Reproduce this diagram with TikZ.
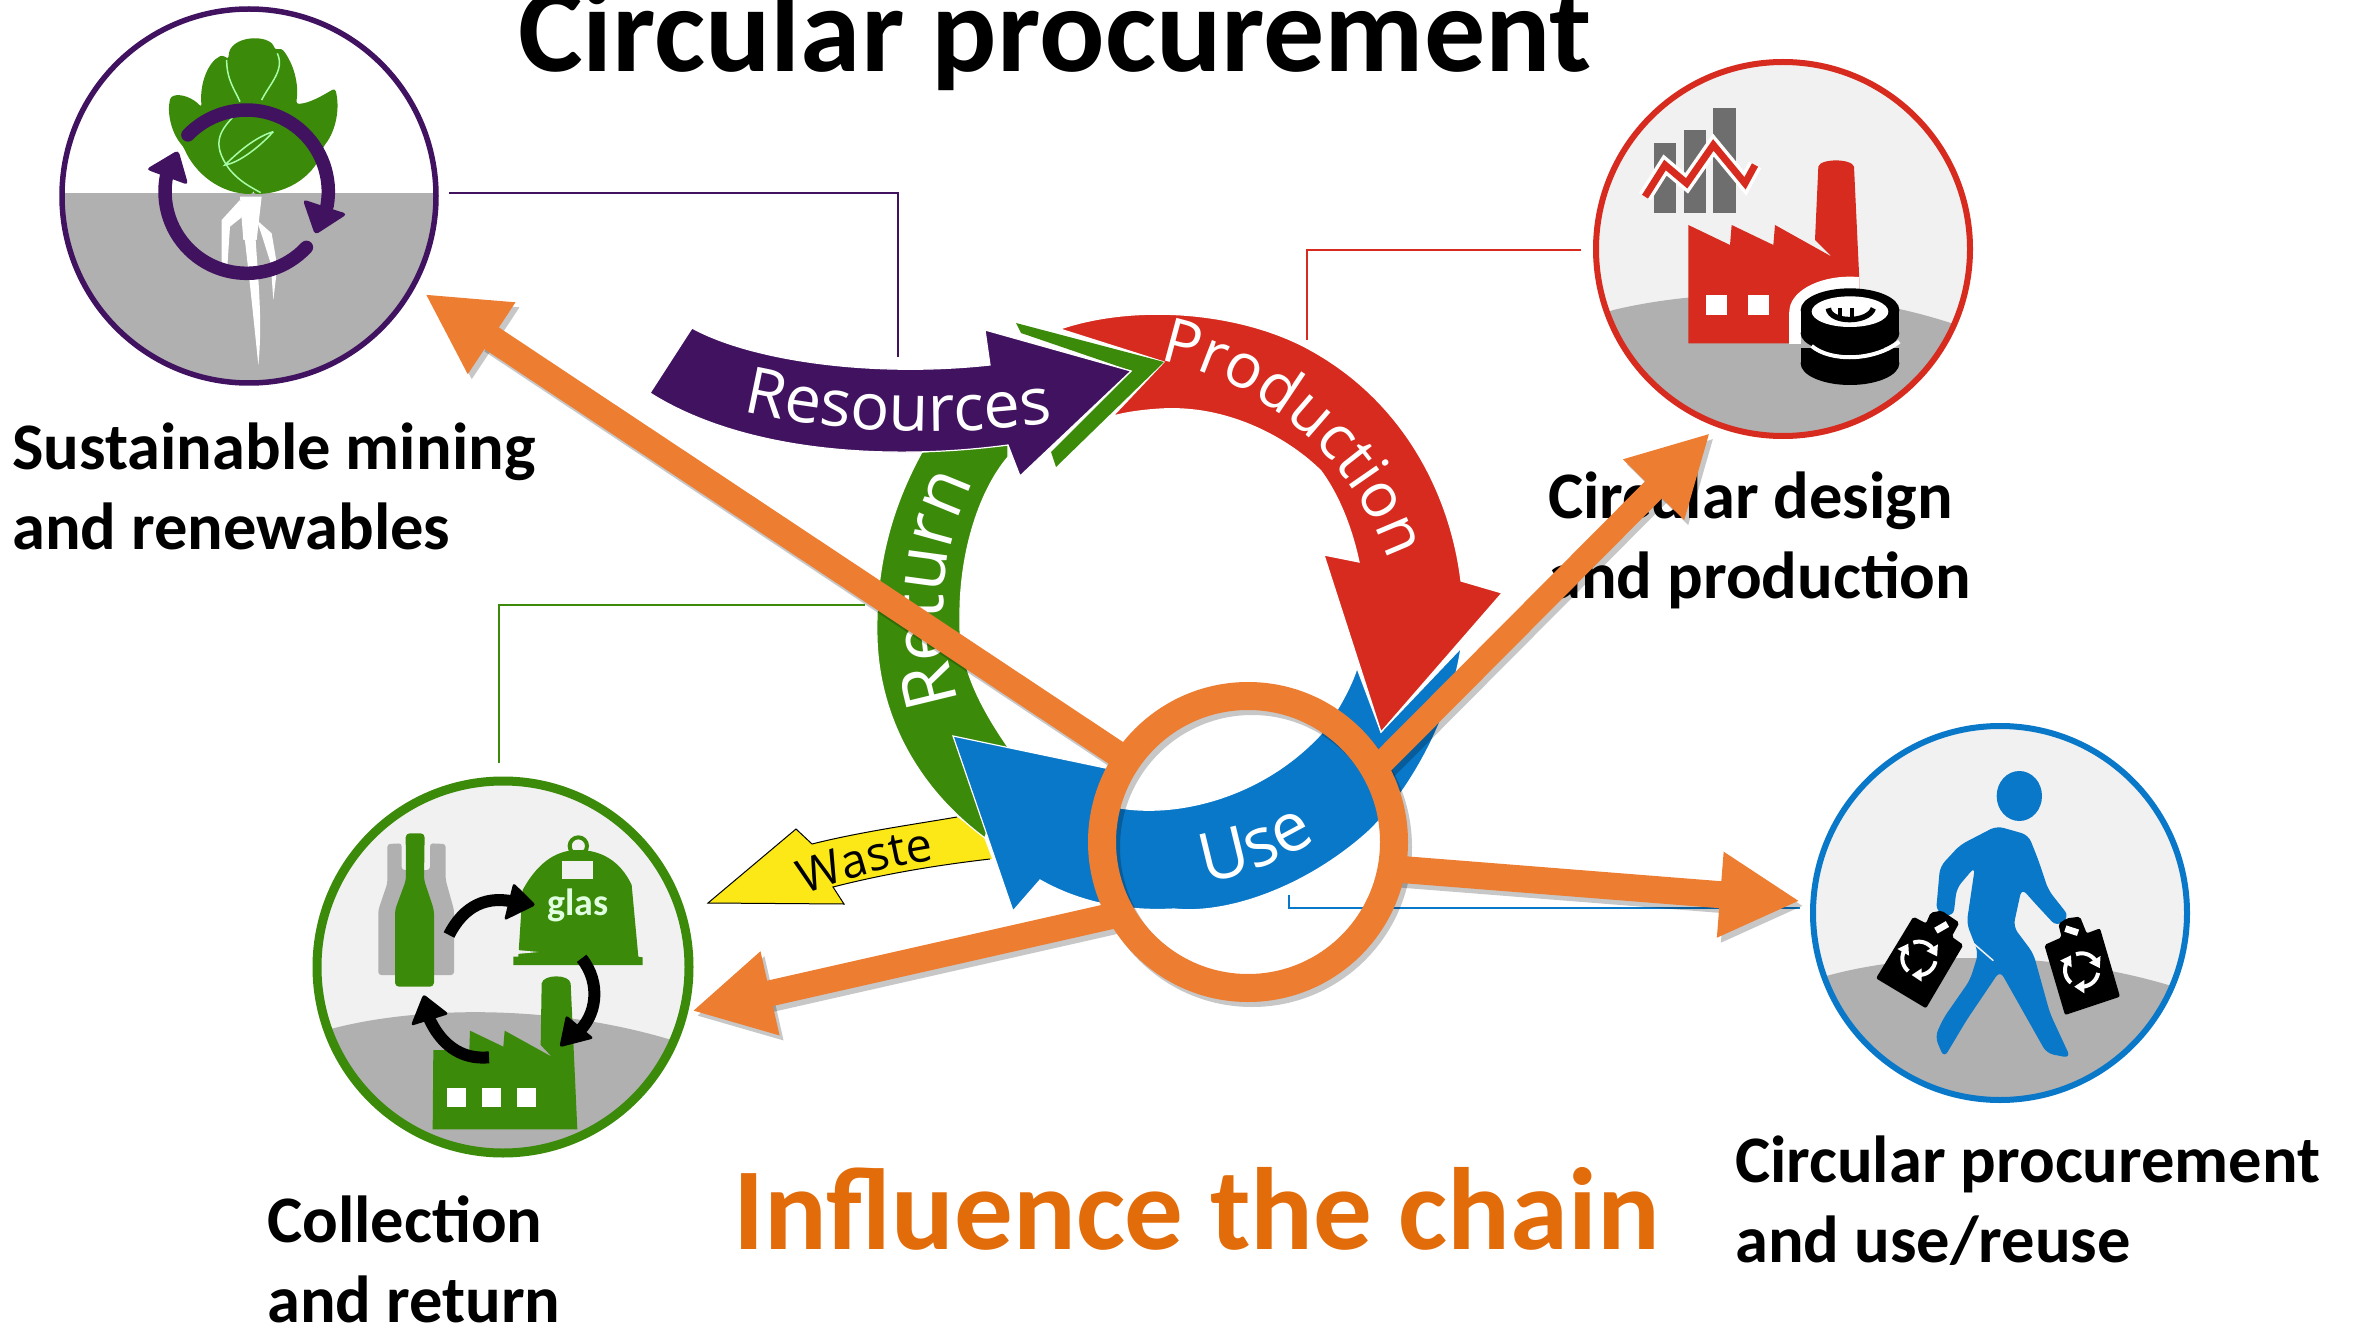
\documentclass[tikz,border=0pt]{standalone}
\usepackage{fontspec}
\usetikzlibrary{arrows.meta,decorations.text,calc}
\newfontfamily\lblfont{Carlito}
\newfontfamily\ringfont{Open Sans}
\definecolor{cPurple}{HTML}{40125F}
\definecolor{cRed}{HTML}{D62B1E}
\definecolor{cGreen}{HTML}{3C8A0A}
\definecolor{cBlue}{HTML}{0A78C8}
\definecolor{cYellow}{HTML}{FCE817}
\definecolor{cOrange}{HTML}{ED7D31}
\definecolor{cTitleOrange}{HTML}{E36C0A}
\definecolor{cGround}{HTML}{B0B0B0}
\definecolor{cSky}{HTML}{F1F1F1}
\definecolor{cBar}{HTML}{6E6E6E}
\tikzset{
  iconring/.style={circle,minimum size=#1,inner sep=0pt},
  thinlink/.style={line width=2.5pt},
  band/.style={draw=white,line width=1.2pt,line join=miter},
  orangearrow/.style={draw=cOrange,line width=#1,shorten <=-10pt,-{Triangle[length=80pt,width=80pt]}},
  shadowarrow/.style={draw=black,line width=#1,shorten <=-10pt,-{Triangle[length=80pt,width=80pt]}},
  lbl/.style={font=\lblfont\bfseries\fontsize{66.5}{80}\selectfont,align=left,anchor=west,inner sep=0pt,text=black},
}
\newcommand{\recycmark}[2]{%
  \foreach \a in {0,120,240}{%
    \begin{scope}[shift={(#1,#2)},rotate=\a]
      \draw[white,line width=4pt] plot[domain=10:85,samples=12] ({50*cos(\x)},{50*sin(\x)});
      \fill[white] (8,30) -- (8,70) -- (-22,50) -- cycle;
    \end{scope}}}
\begin{document}
\begin{tikzpicture}[x=1pt,y=-1pt]
\useasboundingbox (0,0) rectangle (2356,1329);
\fill[white] (0,0) rectangle (2356,1329);

% ---------- icon: resources
\node[iconring=375pt,fill=white] (icoRes) at (249,196) {};
\begin{scope}
  \clip (249,196) circle (187);
  \fill[cGround] (40,193) rectangle (460,400);
\end{scope}
\begin{scope}[shift={(40,0)},scale=1/3]
  \fill[white] (600,590) -- (665,590) -- (650,720) -- (610,720) -- cycle;
  \fill[white] (610,680) .. controls (630,850) and (640,950) .. (655,1095) .. controls (670,950) and (650,800) .. (645,680) -- cycle;
  \fill[white] (600,600) -- (545,660) -- (545,800) -- (562,800) -- (570,680) -- (620,640) -- cycle;
  \fill[white] (650,660) -- (695,700) -- (712,800) -- (700,900) -- (692,790) -- (670,720) -- cycle;
  \fill[cGreen,rounded corners=3pt] (640,582) .. controls (540,582) and (465,520) .. (430,440)
     .. controls (395,400) and (380,340) .. (392,290) .. controls (425,280) and (460,295) .. (485,322)
     .. controls (478,250) and (505,185) .. (548,165) -- (566,178)
     .. controls (565,105) and (690,100) .. (705,150) -- (725,145)
     .. controls (760,190) and (778,250) .. (768,312) .. controls (810,310) and (850,285) .. (885,265)
     .. controls (900,320) and (890,390) .. (850,440) .. controls (830,520) and (750,582) .. (640,582) -- cycle;
  \begin{scope}[draw=green!35!white,line width=1.5pt]
    \draw (560,180) .. controls (560,240) and (585,270) .. (600,305);
    \draw (712,160) .. controls (735,210) and (690,250) .. (665,300);
    \draw (590,340) .. controls (540,390) and (510,430) .. (570,510) .. controls (600,545) and (630,560) .. (662,578);
    \draw (700,395) .. controls (650,410) and (600,450) .. (555,495) .. controls (590,490) and (650,450) .. (700,395);
  \end{scope}
  \draw[cPurple,line width=13.5pt,line cap=round] plot[domain=-136:10,samples=40] ({620+245*cos(\x)},{575+245*sin(\x)});
  \draw[cPurple,line width=13.5pt,line cap=round] plot[domain=43:192,samples=40] ({620+245*cos(\x)},{575+245*sin(\x)});
  \fill[cPurple,rounded corners=4pt] (788,598) -- (922,642) -- (825,705) -- cycle;
  \fill[cPurple,rounded corners=4pt] (318,508) -- (415,450) -- (445,555) -- cycle;
\end{scope}
\draw[cPurple,line width=5.5pt] (icoRes.center) circle (187);

% ---------- icon: production
\node[iconring=375pt,fill=cSky] (icoPro) at (1783,249) {};
\begin{scope}[shift={(1580,40)},scale=1/3]
  \begin{scope}
    \clip (611,626) circle (565);
    \fill[cGround] (0,850) -- (100,810) .. controls (350,750) and (750,730) .. (1115,850) -- (1300,900) -- (1300,1300) -- (0,1300) -- cycle;
  \end{scope}
  \fill[cBar] (222,308) rectangle (288,520);
  \fill[cBar] (312,270) rectangle (378,520);
  \fill[cBar] (400,205) rectangle (467,520);
  \draw[white,line width=14pt,miter limit=3] (195,470) -- (255,375) -- (320,430) -- (400,315) -- (495,430) -- (525,375);
  \draw[cRed,line width=7pt,miter limit=3] (195,470) -- (255,375) -- (320,430) -- (400,315) -- (495,430) -- (525,375);
  \fill[cRed] (325,910) -- (325,555) -- (450,615) -- (455,555) -- (580,615) -- (585,555) -- (755,650) -- (705,600) -- (715,380)
     .. controls (720,355) and (815,355) .. (822,380) -- (838,720) -- (838,910) -- cycle;
  \fill[white] (378,765) rectangle (442,825);
  \fill[white] (505,765) rectangle (568,825);
  \begin{scope}
    \clip (600,690) rectangle (838,915);
    \fill[cGround] (640,830) rectangle (838,915);
    \fill[white] (810,815) ellipse [x radius=182,y radius=105];
    \fill[white] (628,815) rectangle (662,912);
  \end{scope}
  \fill[black] (662,925) rectangle (958,970);
  \fill[black] (810,970) ellipse [x radius=148,y radius=65];
  \fill[black] (662,810) rectangle (958,880);
  \fill[black] (810,880) ellipse [x radius=148,y radius=60];
  \fill[black] (810,810) ellipse [x radius=148,y radius=65];
  \draw[white,line width=4pt] (695,918) .. controls (750,965) and (880,965) .. (958,905);
  \fill[white] (810,815) ellipse [x radius=115,y radius=46];
  \draw[black,line width=5.5pt] (745,805) .. controls (750,850) and (865,850) .. (880,805);
  \draw[black,line width=4pt] (780,805) -- (780,835);
  \draw[black,line width=4pt] (815,805) -- (815,838);
\end{scope}
\draw[cRed,line width=6pt] (icoPro.center) circle (187);

% ---------- icon: return
\node[iconring=375pt,fill=cSky] (icoRet) at (503,967) {};
\begin{scope}[shift={(300,770)},scale=1/3]
  \begin{scope}
    \clip (610,592) circle (560);
    \fill[cGround] (0,800) -- (100,775) .. controls (350,710) and (750,700) .. (1115,810) -- (1300,860) -- (1300,1300) -- (0,1300) -- cycle;
  \end{scope}
  \fill[cGround,rounded corners=3pt] (262,222) -- (305,220) -- (305,300) -- (390,300) -- (390,220) -- (437,222) -- (437,330) -- (462,420) -- (462,615) -- (235,615) -- (235,420) -- (262,340) -- cycle;
  \fill[cGreen,rounded corners=4pt] (317,190) -- (374,190) -- (372,330) -- (402,420) -- (402,650) -- (285,650) -- (285,420) -- (318,330) -- cycle;
  \draw[cGreen,line width=4pt] (835,228) circle (26);
  \fill[cGreen] (655,560) -- (668,360) .. controls (720,265) and (780,240) .. (835,240) .. controls (900,240) and (960,270) .. (995,345) -- (1015,560) -- (1028,562) -- (1028,585) -- (640,585) -- (640,560) -- cycle;
  \fill[cSky] (785,272) rectangle (880,328);
  \fill[cSky] (650,540) -- (715,546) -- (650,552) -- cycle;
  \node[font=\lblfont\bfseries\fontsize{38}{38}\selectfont,text=green!12!white,inner sep=0pt] (glasText) at (833,405) {glas};
  \fill[cGreen] (398,1078) -- (400,840) -- (508,840) -- (510,782) -- (610,830) -- (614,782) -- (755,860) -- (722,825) -- (725,640)
     .. controls (730,612) and (808,612) .. (812,640) -- (832,1078) -- cycle;
  \fill[white] (440,955) rectangle (497,1010);
  \fill[white] (547,955) rectangle (604,1010);
  \fill[white] (652,955) rectangle (708,1010);
  \draw[black,line width=12pt] (447,495) .. controls (490,410) and (560,370) .. (660,400);
  \fill[black,rounded corners=3pt] (640,338) -- (708,405) -- (612,452) -- cycle;
  \draw[black,line width=12pt] (845,565) .. controls (905,640) and (890,740) .. (830,790);
  \fill[black,rounded corners=3pt] (798,735) -- (778,832) -- (882,805) -- cycle;
  \draw[black,line width=12pt] (567,862) .. controls (480,870) and (420,820) .. (385,740);
  \fill[black,rounded corners=3pt] (332,768) -- (370,672) -- (447,732) -- cycle;
\end{scope}
\draw[cGreen,line width=9pt] (icoRet.center) circle (186);

% ---------- icon: use
\node[iconring=375pt,fill=cSky] (icoUse) at (2000,913) {};
\begin{scope}[shift={(1800,720)},scale=1/3]
  \begin{scope}
    \clip (601,581) circle (560);
    \fill[cGround] (0,790) -- (90,765) .. controls (350,695) and (750,690) .. (1105,795) -- (1300,850) -- (1300,1300) -- (0,1300) -- cycle;
  \end{scope}
  \fill[cBlue] (658,228) ellipse [x radius=68,y radius=75];
  \fill[cBlue,rounded corners=7pt] (590,318) -- (685,345) -- (715,420) -- (745,510) -- (808,590) -- (770,620) -- (705,550) -- (665,505) -- (640,620) -- (700,700) -- (750,880) -- (812,1014) -- (740,1000) -- (600,752) -- (500,900) -- (432,1014) -- (405,950) -- (430,895) -- (510,780) -- (535,700) -- (500,610) -- (525,440) -- (470,505) -- (460,590) -- (408,575) -- (420,440) -- (480,375) -- cycle;
  \draw[cSky,line width=1.5pt] (520,670) -- (580,722);
  \fill[black,rounded corners=2pt] (228,775) -- (340,590) -- (378,610) -- (392,578) -- (425,572) -- (478,608) -- (455,650) -- (490,675) -- (378,865) -- cycle;
  \fill[white,rotate around={30:(425,622)}] (405,612) rectangle (445,632);
  \recycmark{357}{715}
  \fill[black,rounded corners=2pt] (733,675) -- (785,652) -- (775,612) -- (800,595) -- (840,590) -- (860,640) -- (900,625) -- (960,830) -- (795,885) -- cycle;
  \fill[white,rotate around={-18:(815,632)}] (795,622) rectangle (835,642);
  \recycmark{845}{750}
\end{scope}
\draw[cBlue,line width=6pt] (icoUse.center) circle (187);

% ---------- thin connectors
\coordinate (pA) at (449,193); \coordinate (pB) at (898,357);
\coordinate (rA) at (1581,250); \coordinate (rB) at (1307,340);
\coordinate (gA) at (499,763); \coordinate (gB) at (865,605);
\coordinate (bA) at (1800,908); \coordinate (bB) at (1289,895);
\draw[cPurple,thinlink] (pA) -| (pB);
\draw[cRed,thinlink] (rA) -| (rB);
\draw[cGreen,thinlink] (gA) |- (gB);
\draw[cBlue,thinlink] (bA) -| (bB);

% ---------- ring
\fill[cYellow] (708,903) -- (796,829) -- (812,844) .. controls (860,832) and (910,825) .. (957,817) -- (983,835) -- (992,859) .. controls (930,866) and (880,875) .. (833,887) -- (844,904) -- cycle;
\draw[black,line width=1pt] (990,859) .. controls (930,866) and (880,875) .. (833,887) -- (844,904) -- (708,903) -- (796,829) -- (812,844) .. controls (860,832) and (910,825) .. (957,817);
\path[band,fill=cGreen] (922,452) .. controls (890,510) and (875,570) .. (877,640) .. controls (880,720) and (920,790) .. (985,838) -- (1010,750) .. controls (975,700) and (958,660) .. (960,615) .. controls (960,550) and (980,490) .. (1008,457) -- (1008,445) -- cycle;
\path[band,fill=cBlue] (953,736) -- (1115,770) -- (1110,806) .. controls (1170,820) and (1260,800) .. (1321,734) .. controls (1335,715) and (1350,690) .. (1357,668) -- (1381,732) -- (1461,648) .. controls (1450,720) and (1410,790) .. (1370,830) .. controls (1310,885) and (1230,915) .. (1174,909) .. controls (1120,912) and (1075,900) .. (1040,880) -- (1013,911) -- cycle;
\path[band,fill=cRed] (1060,329) .. controls (1130,305) and (1230,310) .. (1301,345) .. controls (1400,395) and (1450,490) .. (1461,581) -- (1502,593) -- (1381,732) -- (1324,555) -- (1359,562) .. controls (1350,520) and (1335,490) .. (1321,471) .. controls (1290,440) and (1230,405) .. (1161,409) .. controls (1145,410) and (1128,412) .. (1113,416) -- (1164,362) -- cycle;
\fill[cGreen] (1016,323) -- (1164,362) -- (1056,467) -- (1051,452) -- (1132,371) -- (1021,333) -- cycle;
\path[band,fill=cPurple] (692,328) .. controls (750,360) and (870,378) .. (990,365) -- (985,330) -- (1131,371) -- (1020,476) -- (1008,445) .. controls (880,462) and (740,450) .. (650,393) -- cycle;

% ---------- ring texts
\path[decorate,decoration={text along path,text align=center,text={|\ringfont\fontsize{65}{65}\selectfont\color{white}|Resources}}] (730,408) .. controls (820,432) and (950,440) .. (1066,420);
\path[decorate,decoration={text along path,text align=center,text={|\ringfont\fontsize{62}{62}\selectfont\color{white}|Production}}] (1150,358) .. controls (1240,372) and (1350,440) .. (1392,570);
\path[decorate,decoration={text along path,text align=center,text={|\ringfont\fontsize{72}{72}\selectfont\color{white}|Return}}] (966,725) .. controls (932,630) and (935,550) .. (985,460);
\path[decorate,decoration={text along path,text align=center,text={|\ringfont\fontsize{68}{68}\selectfont\color{white}|Use}}] (1190,884) .. controls (1240,879) and (1285,862) .. (1330,832);
\path[decorate,decoration={text along path,text align=center,text={|\ringfont\fontsize{47}{47}\selectfont\color{black}|Waste}}] (792,900) .. controls (845,878) and (890,866) .. (948,858);

% ---------- labels
\node[font=\lblfont\bfseries\fontsize{122}{122}\selectfont,anchor=base west,inner sep=0pt] (title) at (518,72) {Circular procurement};
\node[lbl] (lRes) at (12,486) {Sustainable mining\\and renewables};
\node[lbl] (lPro) at (1548,540) {Circular design\\and production};
\node[lbl] (lRet) at (267,1259) {Collection\\and return};
\node[lbl] (lUse) at (1735,1201) {Circular procurement\\and use/reuse};
\node[font=\lblfont\bfseries\fontsize{117}{117}\selectfont,text=cTitleOrange,anchor=base west,inner sep=0pt] (influence) at (733,1249) {Influence the chain};

% ---------- orange focus and arrows
\coordinate (tipNW) at (425,294);
\coordinate (tipNE) at (1710,433);
\coordinate (tipW) at (692,1011);
\coordinate (tipE) at (1800,901);
\node[circle,minimum size=292pt,inner sep=0pt,line width=28pt] (focus) at (1248,842) {};
\begin{scope}[transform canvas={shift={(4,5)}},opacity=.22]
  \draw[shadowarrow=26pt] (focus.146) -- (tipNW);
  \draw[shadowarrow=24pt] (focus.31) -- (tipNE);
  \draw[shadowarrow=26pt] (focus.208) -- (tipW);
  \draw[shadowarrow=27pt] (focus.-10.5) -- (tipE);
  \draw[black,line width=28pt] (focus.center) circle (146);
\end{scope}
\draw[orangearrow=26pt] (focus.146) -- (tipNW);
\draw[orangearrow=24pt] (focus.31) -- (tipNE);
\draw[orangearrow=26pt] (focus.208) -- (tipW);
\draw[orangearrow=27pt] (focus.-10.5) -- (tipE);
\draw[cOrange,line width=28pt] (focus.center) circle (146);
\end{tikzpicture}
\end{document}
